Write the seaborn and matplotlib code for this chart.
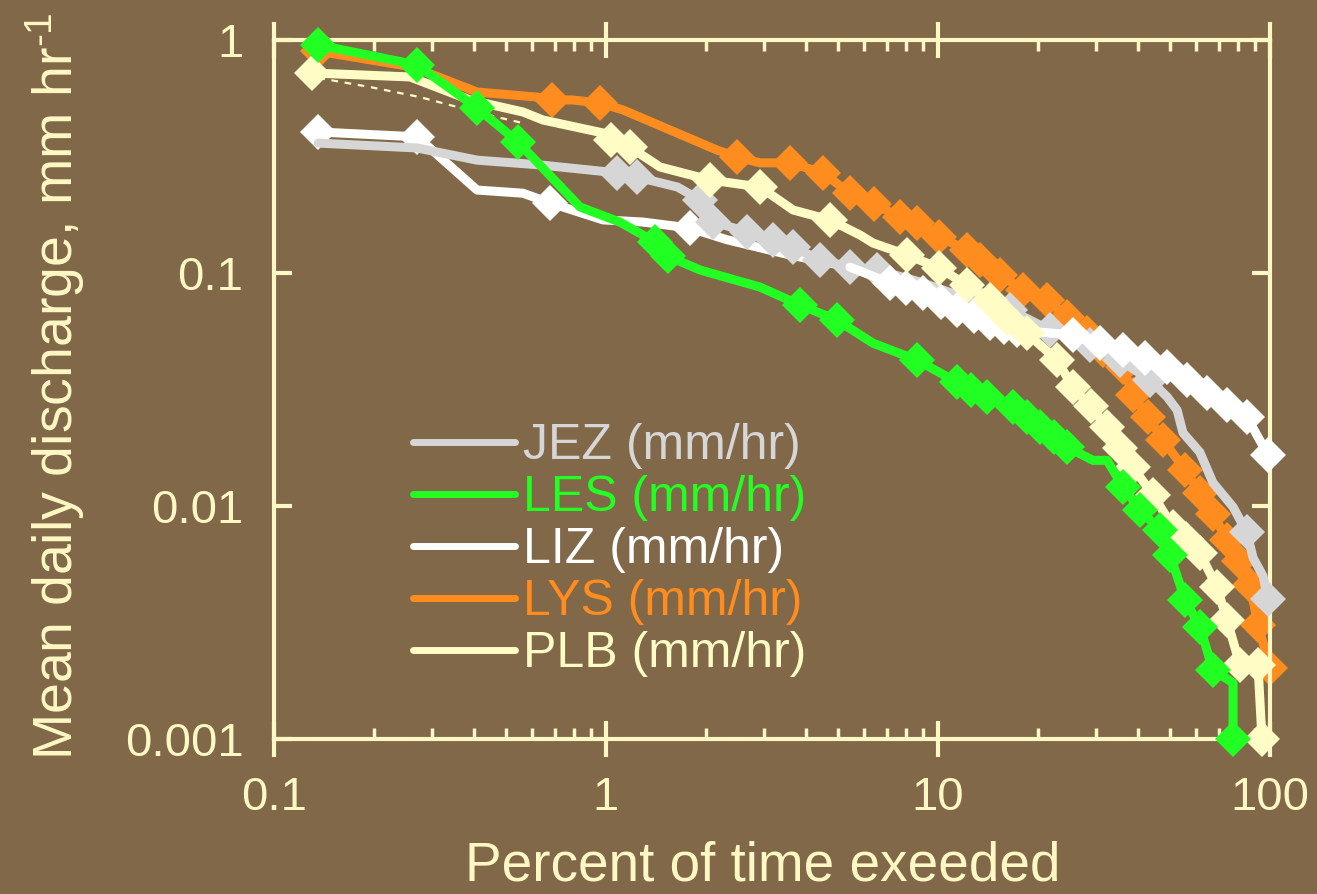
import matplotlib
matplotlib.use("Agg")
import matplotlib.pyplot as plt
from matplotlib.lines import Line2D
from matplotlib.ticker import FixedLocator, FixedFormatter, LogLocator, NullLocator
import seaborn as sns

# Flow-duration data: percent of time exceeded vs mean daily discharge (mm/hr)
jez_x = [0.136, 0.27, 0.409, 0.633, 1.08, 1.24, 1.64, 1.92, 2.10, 2.66,
         3.18, 3.66, 4.41, 5.43, 6.55, 8.83, 13.4, 16.5, 21.7, 28.7,
         35.3, 43.5, 49.0, 52.5, 54.7, 61.5, 67.3, 77.4, 85.2, 88.9,
         95.3, 98.6]
jez_y = [0.361, 0.344, 0.305, 0.291, 0.269, 0.258, 0.234, 0.206, 0.166, 0.150,
         0.139, 0.129, 0.114, 0.106, 0.103, 0.0915, 0.0743, 0.0694, 0.0569, 0.0491,
         0.0423, 0.0347, 0.0294, 0.0258, 0.0206, 0.0170, 0.0126, 0.0099, 0.0077, 0.0060,
         0.0050, 0.0040]
jez_marks = [4, 5, 7, 8, 9, 10, 11, 12, 13, 14, 16, 17, 18, 19, 20, 21, 28, 31]

les_x = [0.136, 0.27, 0.409, 0.543, 0.835, 1.10, 1.405, 1.537, 1.92, 2.91,
         3.84, 4.96, 6.37, 8.64, 11.4, 12.6, 14.05, 16.8, 18.5, 20.3,
         22.3, 24.5, 29.3, 32.3, 36.1, 40.6, 46.6, 50.0, 55.5, 61.5,
         67.3, 77.4, 77.4]
les_y = [0.952, 0.781, 0.511, 0.365, 0.192, 0.1655, 0.136, 0.118, 0.103, 0.087,
         0.0729, 0.0628, 0.050, 0.0423, 0.034, 0.0315, 0.0294, 0.0266, 0.024, 0.0218,
         0.0197, 0.0179, 0.0157, 0.0157, 0.0121, 0.0096, 0.00789, 0.00616, 0.00395, 0.00303,
         0.00198, 0.00174, 0.001]
les_marks = [0, 1, 2, 3, 6, 7, 10, 11] + list(range(13, 22)) + list(range(24, 31)) + [32]

liz_x = [0.136, 0.27, 0.409, 0.562, 0.678, 0.98, 1.29, 1.79, 2.31, 3.58,
         5.43, 7.17, 8.0, 9.01, 10.2, 11.4, 12.8, 14.3, 15.8, 17.3,
         25.5, 30.8, 36.1, 42.0, 49.0, 56.2, 64.6, 74.2, 85.2, 98.6]
liz_y = [0.403, 0.384, 0.227, 0.220, 0.200, 0.169, 0.1655, 0.156, 0.139, 0.1195,
         0.106, 0.0906, 0.086, 0.082, 0.075, 0.0694, 0.0655, 0.061, 0.0588, 0.0569,
         0.0542, 0.050, 0.0467, 0.0432, 0.0395, 0.0347, 0.0305, 0.0271, 0.0241, 0.01655]
liz_marks = [0, 1, 4, 7] + list(range(11, 30))
liz_split = 10  # high-flow part sits beneath JEZ, low-flow part above it

lys_x = [0.136, 0.262, 0.409, 0.62, 0.688, 0.79, 0.959, 1.125, 1.558, 2.16,
         2.48, 2.91, 3.58, 4.5, 5.43, 6.4, 7.68, 8.64, 10.1, 12.2,
         13.4, 15.4, 18.0, 21.3, 24.5, 28.1, 31.4, 36.1, 38.6, 43.0,
         47.6, 55.5, 61.5, 67.5, 74.2, 80.5, 87.1, 92.0, 100.0]
lys_y = [0.895, 0.766, 0.598, 0.569, 0.553, 0.553, 0.537, 0.501, 0.411, 0.337,
         0.315, 0.297, 0.297, 0.269, 0.220, 0.198, 0.174, 0.164, 0.143, 0.1256,
         0.1137, 0.098, 0.0845, 0.0766, 0.0647, 0.055, 0.0467, 0.0395, 0.030, 0.024,
         0.0192, 0.01427, 0.01137, 0.0092, 0.00714, 0.0058, 0.00458, 0.00309, 0.00202]
lys_marks = [0, 4, 6, 10] + list(range(12, 39))

plb_x = [0.130, 0.257, 0.389, 0.562, 0.646, 0.98, 1.035, 1.18, 1.455, 2.06,
         2.91, 3.66, 4.73, 5.82, 6.37, 8.07, 10.1, 12.2, 14.3, 16.1,
         18.5, 22.8, 25.5, 28.8, 32.3, 35.3, 38.6, 44.5, 51.0, 56.0,
         61.5, 69.2, 74.2, 81.2, 92.0, 94.6]
plb_y = [0.722, 0.694, 0.553, 0.491, 0.4535, 0.399, 0.372, 0.347, 0.285, 0.2506,
         0.234, 0.1864, 0.1689, 0.1456, 0.1345, 0.1195, 0.105, 0.0888, 0.0766, 0.0641,
         0.0553, 0.0423, 0.0324, 0.0268, 0.0218, 0.0178, 0.0147, 0.0111, 0.00813, 0.0072,
         0.00628, 0.00449, 0.00324, 0.00208, 0.00208, 0.001]
plb_marks = [0, 6, 7, 9, 10, 12] + list(range(15, 36))

trend_x = [0.136, 0.195, 0.275, 0.356, 0.469, 0.562]
trend_y = [0.687, 0.628, 0.569, 0.516, 0.467, 0.44]

series_names = ["JEZ (mm/hr)", "LES (mm/hr)", "LIZ (mm/hr)", "LYS (mm/hr)", "PLB (mm/hr)"]
series_colors = ["#d6d6d6", "#22ff22", "#ffffff", "#ff8c1e", "#fffcc6"]

x_ticks = [0.1, 1, 10, 100]
x_tick_labels = ["0.1", "1", "10", "100"]
y_ticks = [0.001, 0.01, 0.1, 1]
y_tick_labels = ["0.001", "0.01", "0.1", "1"]

BG = "#806848"
AXC = "#fff8c4"
LW = 6.5
MS = 18

sns.set_theme(style="ticks")
plt.rcParams["font.family"] = ["Liberation Sans", "DejaVu Sans"]
plt.rcParams["mathtext.fontset"] = "custom"
plt.rcParams["mathtext.rm"] = "Liberation Sans"
plt.rcParams["mathtext.it"] = "Liberation Sans:italic"
plt.rcParams["mathtext.bf"] = "Liberation Sans:bold"

fig = plt.figure(figsize=(13.17, 8.94), dpi=100, facecolor=BG)
ax = fig.add_axes([274 / 1317, 1 - 739 / 894, 996 / 1317, 699 / 894])
ax.set_facecolor(BG)
ax.set_xscale("log")
ax.set_yscale("log")


def draw(xs, ys, marks, color, z):
    sns.lineplot(x=xs, y=ys, ax=ax, sort=False, estimator=None, color=color,
                 lw=LW, marker="D", markevery=marks, ms=MS, mew=0,
                 zorder=z, clip_on=False, legend=False)


c_jez, c_les, c_liz, c_lys, c_plb = series_colors
draw(lys_x, lys_y, lys_marks, c_lys, 2)
draw(liz_x[:liz_split + 1], liz_y[:liz_split + 1],
     [m for m in liz_marks if m <= liz_split], c_liz, 2.5)
draw(jez_x, jez_y, jez_marks, c_jez, 3)
draw(liz_x[liz_split:], liz_y[liz_split:],
     [m - liz_split for m in liz_marks if m >= liz_split], c_liz, 4)
draw(plb_x, plb_y, plb_marks, c_plb, 5)
draw(les_x, les_y, les_marks, c_les, 6)

sns.lineplot(x=trend_x, y=trend_y, ax=ax, sort=False, estimator=None,
             color=c_plb, lw=1.6, zorder=4.5, legend=False)
ax.lines[-1].set_dashes([3, 3])

ax.set_xlim(0.1, 100)
ax.set_ylim(0.001, 1)

ax.xaxis.set_major_locator(FixedLocator(x_ticks))
ax.xaxis.set_major_formatter(FixedFormatter(x_tick_labels))
ax.xaxis.set_minor_locator(LogLocator(base=10, subs=range(2, 10)))
ax.yaxis.set_major_locator(FixedLocator(y_ticks))
ax.yaxis.set_major_formatter(FixedFormatter(y_tick_labels))
ax.yaxis.set_minor_locator(NullLocator())

for s in ax.spines.values():
    s.set_color(AXC)
    s.set_linewidth(3)

ax.tick_params(which="both", top=True, right=True, color=AXC, labelcolor=AXC, width=3)
ax.tick_params(axis="x", which="major", direction="inout", length=26, pad=14, labelsize=34)
ax.tick_params(axis="y", which="major", direction="in", length=13, pad=22, labelsize=34)
ax.tick_params(axis="x", which="minor", direction="in", length=8, width=2.5)

ax.set_xlabel("Percent of time exeeded", fontsize=39.5, color=AXC)
ax.xaxis.set_label_coords(0.491, -0.145)
ax.set_ylabel(r"Mean daily discharge, mm hr$^{\text{-1}}$", fontsize=40, color=AXC)
ax.yaxis.set_label_coords(-0.188, 0.505)

handles = [Line2D([], [], color=c, lw=5) for c in series_colors]
leg = ax.legend(handles, series_names, loc="center left", bbox_to_anchor=(0.1396, 0.27),
                frameon=False, fontsize=36, handlelength=2.04, handletextpad=0.15,
                labelspacing=0.12, borderpad=0, borderaxespad=0)
for t, c in zip(leg.get_texts(), series_colors):
    t.set_color(c)

fig.savefig("out.png", dpi=100, facecolor=BG)
